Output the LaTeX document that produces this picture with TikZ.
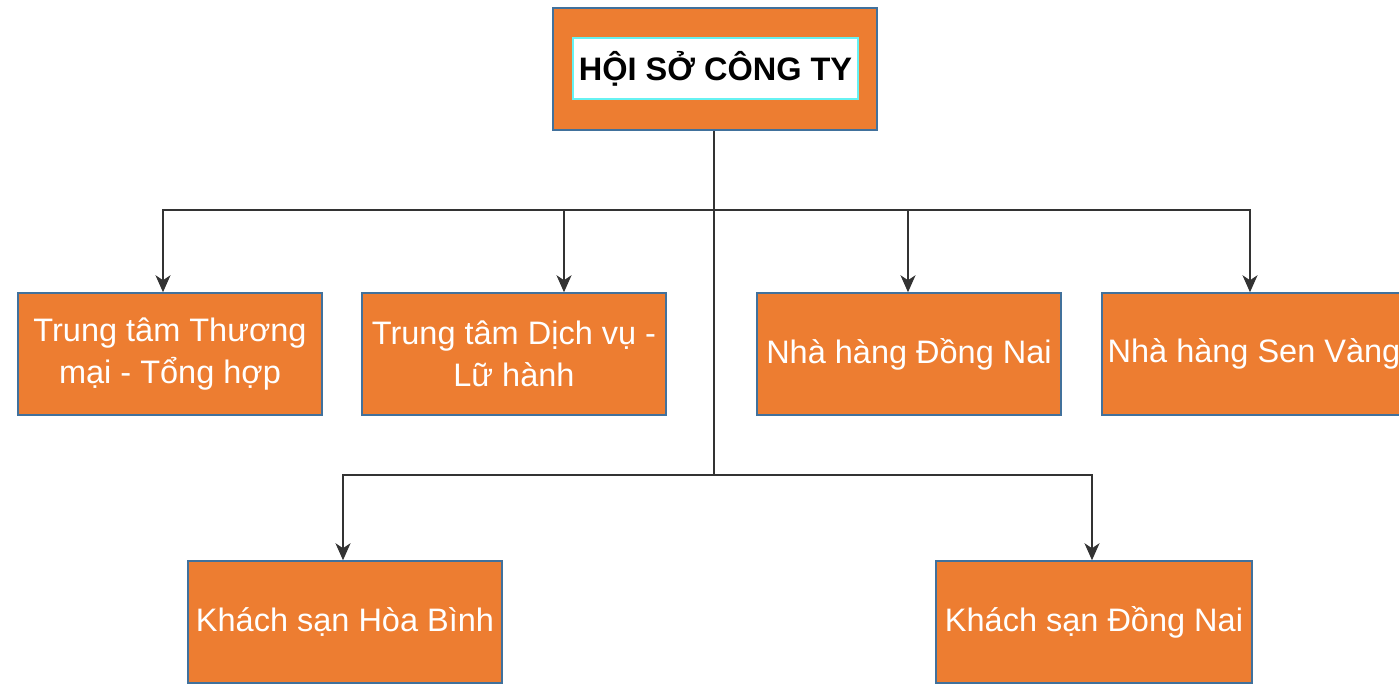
\documentclass[tikz,border=0pt]{standalone}
\usepackage{fontspec}
\setmainfont{Liberation Sans}
\usetikzlibrary{positioning,arrows.meta}

\definecolor{boxorange}{HTML}{ED7D31}
\definecolor{boxedge}{HTML}{41719C}
\definecolor{lineclr}{HTML}{333333}
\definecolor{titleedge}{HTML}{66F2F2}

\tikzset{
  unit/.style={draw=boxedge, line width=1.5pt, fill=boxorange, text=white,
    minimum width=304pt, minimum height=122pt, align=center, inner sep=0pt,
    font=\fontsize{32.5}{42}\selectfont},
  titlebox/.style={draw=titleedge, line width=1.5pt, fill=white, text=black,
    minimum width=285pt, minimum height=61pt, inner sep=0pt,
    font=\fontsize{32.5}{38}\selectfont\bfseries},
  link/.style={draw=lineclr, line width=1.8pt},
  arrowlink/.style={link, -{Stealth[length=17pt,width=15pt,inset=5pt]}}
}

\begin{document}
\begin{tikzpicture}[x=1pt,y=-1pt]
    \useasboundingbox (0,0) rectangle (1399,685);
    % head office
    \node[unit, minimum width=324pt] (hoiso) at (715,69) {};
    \node[titlebox] (hoisotext) at (715.5,68.5) {HỘI SỞ CÔNG TY};
    % first row
    \node[unit] (thuongmai) at (170,354) {Trung tâm Thương\\mại - Tổng hợp};
    \node[unit] (dichvu) at (514,354) {Trung tâm Dịch vụ -\\Lữ hành};
    \node[unit] (nhdongnai) at (909,354) {Nhà hàng Đồng Nai};
    \node[unit] (senvang) at (1254,354) {Nhà hàng Sen Vàng};
    % second row
    \node[unit, minimum width=314pt] (hoabinh) at (345,622) {Khách sạn Hòa Bình};
    \node[unit, minimum width=316pt] (ksdongnai) at (1094,622) {Khách sạn Đồng Nai};
    % junctions
    \coordinate (bar1) at (714,210);
    \coordinate (bar2) at (714,475);
    \draw[link] (hoiso.south -| bar1) -- (bar2);
    \draw[arrowlink] (bar1) -| ([xshift=-7pt]thuongmai.north);
    \draw[arrowlink] (bar1) -| ([xshift=50pt]dichvu.north);
    \draw[arrowlink] (bar1) -| ([xshift=-1pt]nhdongnai.north);
    \draw[arrowlink] (bar1) -| ([xshift=-4pt]senvang.north);
    \draw[arrowlink] (bar2) -| ([xshift=-2pt]hoabinh.north);
    \draw[arrowlink] (bar2) -| ([xshift=-2pt]ksdongnai.north);
\end{tikzpicture}
\end{document}
